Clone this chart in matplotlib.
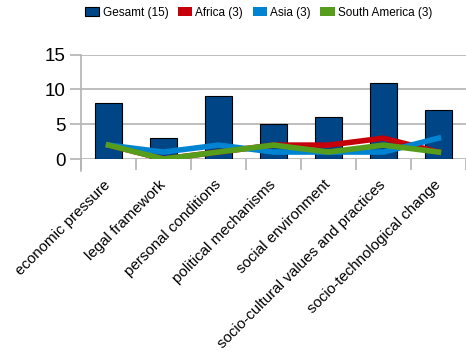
import matplotlib
matplotlib.use("Agg")
import matplotlib.pyplot as plt
from matplotlib.patches import Patch
import numpy as np

plt.rcParams['font.family'] = ['Liberation Sans', 'DejaVu Sans']

categories = ["economic pressure", "legal framework", "personal conditions",
              "political mechanisms", "social environment",
              "socio-cultural values and practices", "socio-technological change"]
gesamt = [8, 3, 9, 5, 6, 11, 7]
africa = [2, 0, 1, 2, 2, 3, 1]
asia = [2, 1, 2, 1, 1, 1, 3]
south_america = [2, 0, 1, 2, 1, 2, 1]
series_labels = ["Gesamt (15)", "Africa (3)", "Asia (3)", "South America (3)"]
yticks = [0, 5, 10, 15]

c_bar = "#004586"
c_af = "#c5000b"
c_as = "#0084d1"
c_sa = "#579d1c"
grid_c = "#b3b3b3"

fig = plt.figure(figsize=(4.66, 3.59), dpi=100)
ax = fig.add_axes([81/466, 1-159/359, 1-81/466, (159-54.7)/359])
x = np.arange(len(categories))
ax.bar(x, gesamt, width=0.5, color=c_bar, edgecolor="black", linewidth=0.8, zorder=3)
ax.plot(x, africa, color=c_af, lw=4, zorder=4, solid_joinstyle='miter')
ax.plot(x, asia, color=c_as, lw=4, zorder=5, solid_joinstyle='miter')
ax.plot(x, south_america, color=c_sa, lw=4, zorder=6, solid_joinstyle='miter')

ax.set_xlim(-0.5, len(categories) - 0.5)
ax.set_ylim(0, 15)
ax.set_yticks(yticks)
ax.yaxis.grid(True, color=grid_c, lw=1.2, zorder=0)
ax.set_axisbelow(True)
for s in ["top", "right", "bottom"]:
    ax.spines[s].set_visible(False)
ax.spines["left"].set_color(grid_c)
ax.spines["left"].set_linewidth(1.2)
ax.spines["left"].set_bounds(-1.7, 15)
ax.tick_params(axis='y', length=8, width=1.2, color=grid_c, labelsize=13.5, pad=3)

ax.set_xticks(x)
ax.set_xticks(np.arange(-0.5, len(categories)), minor=True)
ax.tick_params(axis='x', which='major', length=0, pad=17)
ax.tick_params(axis='x', which='minor', length=8, width=1.2, color=grid_c)
ax.set_xticklabels(categories, rotation=45, ha='right', va='center',
                   rotation_mode='anchor', fontsize=10.9)

handles = [Patch(facecolor=c_bar, edgecolor="black", lw=0.8),
           Patch(facecolor=c_af), Patch(facecolor=c_as), Patch(facecolor=c_sa)]
fig.legend(handles, series_labels, loc='center', bbox_to_anchor=(0.555, 1-13/359),
           ncol=4, frameon=False, fontsize=8.5, handlelength=1.2, handleheight=0.8,
           handletextpad=0.3, columnspacing=0.8, borderaxespad=0)

fig.savefig("out.png", dpi=100)
